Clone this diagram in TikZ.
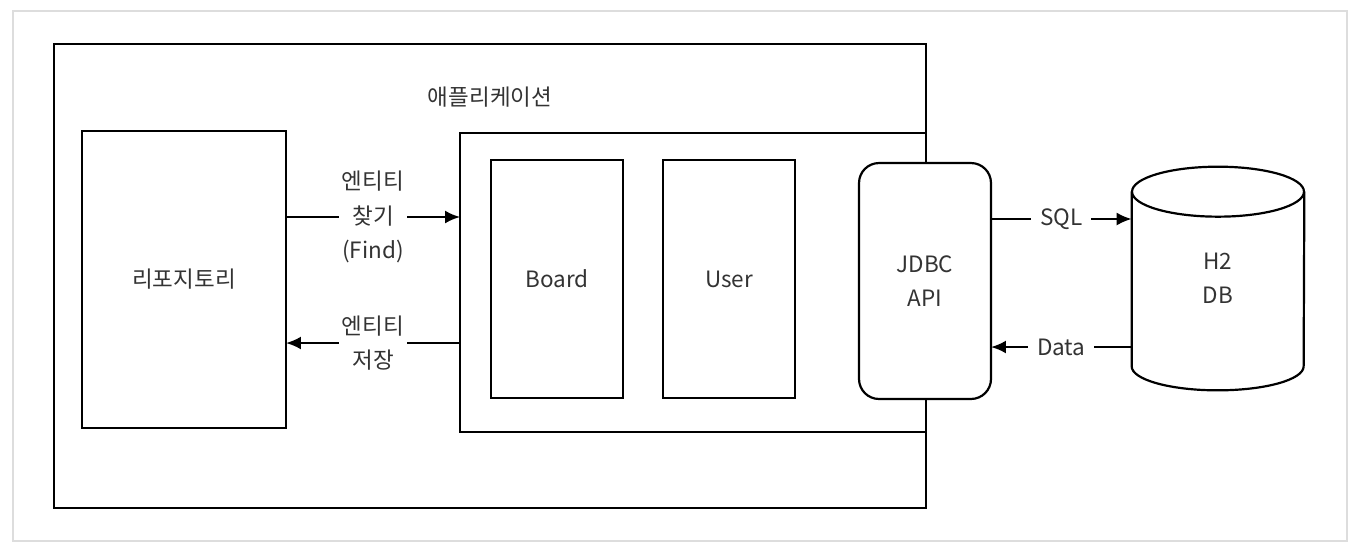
\documentclass[tikz,border=0pt]{standalone}
\usepackage{fontspec}
\setmainfont{Noto Sans CJK KR}
\usetikzlibrary{arrows.meta}
\definecolor{txtgray}{HTML}{333333}
\definecolor{framegray}{HTML}{DDDDDD}

\begin{document}
\begin{tikzpicture}[x=0.02cm,y=-0.02cm,
  every node/.style={font=\fontsize{12.8}{19.5}\selectfont,text=txtgray},
  box/.style={draw=black,line width=1.25pt,inner sep=0pt,outer sep=0pt},
  arr/.style={line width=1.25pt,-{Latex[length=3mm,width=2.6mm]}},
  lbl/.style={midway,fill=white,align=center,inner sep=1.5pt},
  sidelbl/.style={lbl,inner xsep=5pt}]
\useasboundingbox (0,0) rectangle (1362,556);
\draw[framegray,line width=.6pt] (13,11) rectangle (1347,541);
%
\node[box,minimum width=17.44cm,minimum height=9.28cm] (app) at (490,276) {};
\node (applabel) at (490,97) {애플리케이션};
\node[box,minimum width=4.08cm,minimum height=5.94cm] (repo) at (184,279.5) {리포지토리};
\node[box,minimum width=9.32cm,minimum height=5.98cm] (cont) at (693,282.5) {};
\node[box,minimum width=2.64cm,minimum height=4.76cm] (board) at (557,279) {Board};
\node[box,minimum width=2.64cm,minimum height=4.76cm] (user) at (729,279) {User};
\node[box,fill=white,rounded corners=.4cm,align=center,
  minimum width=2.64cm,minimum height=4.72cm] (jdbc) at (925,281) {JDBC\\API};
%
\node[inner sep=0pt,minimum width=3.44cm,minimum height=4.46cm,align=center] (db) at (1218,278.5) {H2\\DB};
\draw[box] ([yshift=-.5cm]db.north west) -- ([yshift=.48cm]db.south west)
  arc[start angle=180,end angle=360,x radius=1.72cm,y radius=.48cm]
  -- ([yshift=-.5cm]db.north east);
\draw[box] ([yshift=-.5cm]db.north) ellipse[x radius=1.72cm,y radius=.5cm];
%
\coordinate (yfind) at (0,217);
\coordinate (ysave) at (0,343);
\coordinate (ysql) at (0,219);
\coordinate (ydata) at (0,347);
\draw[arr] (repo.east |- yfind) -- (cont.west |- yfind) node[lbl] {엔티티\\찾기\\(Find)};
\draw[arr] (cont.west |- ysave) -- (repo.east |- ysave) node[lbl] {엔티티\\저장};
\draw[arr] (jdbc.east |- ysql) -- (db.west |- ysql) node[sidelbl] {SQL};
\draw[arr] (db.west |- ydata) -- (jdbc.east |- ydata) node[sidelbl] {Data};
\end{tikzpicture}
\end{document}
